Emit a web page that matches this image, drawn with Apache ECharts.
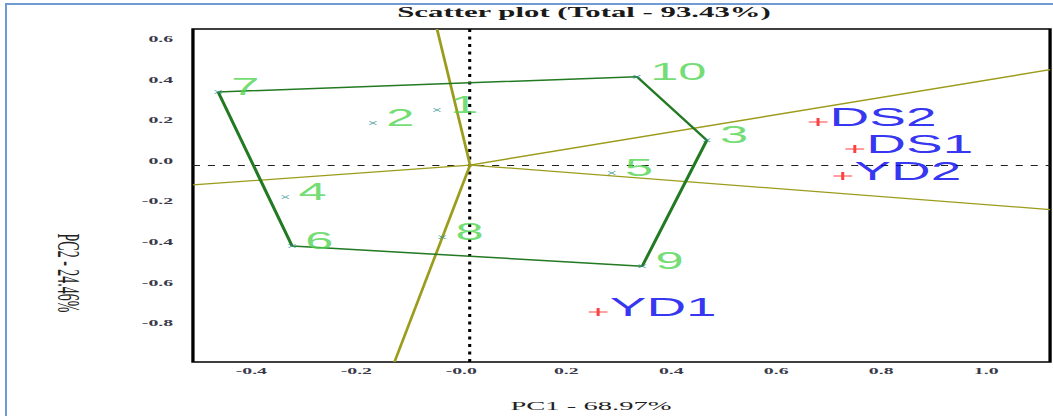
<!DOCTYPE html>
<html>
<head>
<meta charset="utf-8">
<script src="https://cdn.jsdelivr.net/npm/echarts@6/dist/echarts.min.js"></script>
<style>
  html, body { margin: 0; padding: 0; background: #fff; overflow: hidden; }
  #wrap { position: relative; width: 1053px; height: 416px; overflow: hidden; }
  /* the biplot is drawn narrow and stretched sideways */
  #chart { position: absolute; left: 0; top: 0; width: 479px; height: 416px;
           transform: scaleX(2.2); transform-origin: 0 0; }
  #frame { position: absolute; left: 5px; top: 3px; width: 1100px; height: 500px;
           border-left: 2px solid #6f9bd2; border-top: 2px solid #6f9bd2;
           pointer-events: none; }
</style>
</head>
<body>
<div id="wrap">
  <div id="chart"></div>
  <div id="frame"></div>
</div>
<script>
// Genotype scores (PC1, PC2)
const genotypes = ['1', '2', '3', '4', '5', '6', '7', '8', '9', '10'];
const genoPC1 = [-0.063, -0.185, 0.451, -0.352, 0.270, -0.339, -0.480, -0.053, 0.328, 0.318];
const genoPC2 = [0.271, 0.207, 0.122, -0.158, -0.039, -0.399, 0.360, -0.355, -0.498, 0.435];

// Environment scores (PC1, PC2)
const environments = ['DS1', 'DS2', 'YD1', 'YD2'];
const envPC1 = [0.733, 0.663, 0.244, 0.710];
const envPC2 = [0.079, 0.212, -0.724, -0.054];

// Vertex genotypes of the polygon, in drawing order
const hullOrder = ['7', '10', '3', '9', '6'];

// Axis ranges and tick labels
const xRange = [-0.528, 1.105];
const yRange = [-0.97, 0.67];
const xTicks = [-0.4, -0.2, 0, 0.2, 0.4, 0.6, 0.8, 1.0];
const yTicks = [-0.8, -0.6, -0.4, -0.2, 0, 0.2, 0.4, 0.6];

const titleText = 'Scatter plot (Total - 93.43%)';
const xName = 'PC1 - 68.97%';
const yName = 'PC2 - 24.46%';

const SX = 2.2; // horizontal stretch applied to the chart box

function genoPoint(name) {
  const i = genotypes.indexOf(name);
  return [genoPC1[i], genoPC2[i]];
}

// polygon outline, closed
const hullData = hullOrder.map(genoPoint);
hullData.push(hullData[0]);

// ray from the origin, perpendicular to side AB, out to the plot border
function perpRay(A, B) {
  const dx = B[0] - A[0], dy = B[1] - A[1];
  const t = -(A[0] * dx + A[1] * dy) / (dx * dx + dy * dy);
  const px = A[0] + t * dx, py = A[1] + t * dy;
  let s = Infinity;
  if (px > 0) s = Math.min(s, xRange[1] / px); else if (px < 0) s = Math.min(s, xRange[0] / px);
  if (py > 0) s = Math.min(s, yRange[1] / py); else if (py < 0) s = Math.min(s, yRange[0] / py);
  return [[0, 0], [px * s, py * s]];
}

const raySeries = [];
for (let k = 0; k < hullOrder.length; k++) {
  const A = genoPoint(hullOrder[k]);
  const B = genoPoint(hullOrder[(k + 1) % hullOrder.length]);
  raySeries.push({
    type: 'line',
    data: perpRay(A, B),
    symbol: 'none',
    silent: true,
    z: 2,
    lineStyle: { color: '#9c9c1c', width: 1.3 }
  });
}

const crossPath = 'path://M0,0L2,0L5,3L8,0L10,0L6,4L10,8L8,8L5,5L2,8L0,8L4,4Z';
const plusPath = 'path://M0,4.3L10,4.3L10,5.7L0,5.7Z M4.2,0L5.8,0L5.8,10L4.2,10Z';

const chart = echarts.init(document.getElementById('chart'), null, { renderer: 'svg' });

chart.setOption({
  animation: false,
  backgroundColor: '#fff',
  grid: {
    left: 87.7, right: 1.7, top: 29, bottom: 54,
    show: true, borderColor: '#000', borderWidth: 1.5, backgroundColor: 'transparent'
  },
  xAxis: {
    type: 'value', min: xRange[0], max: xRange[1],
    axisLine: { show: false }, axisTick: { show: false }, splitLine: { show: false },
    axisLabel: {
      customValues: xTicks,
      formatter: v => (v === 0 ? '-0.0' : v.toFixed(1)),
      fontSize: 9, fontWeight: 'bold', fontFamily: 'Liberation Serif',
      color: '#3a3a4a', margin: 4, padding: [0, 8, 0, 0]
    }
  },
  yAxis: {
    type: 'value', min: yRange[0], max: yRange[1],
    axisLine: { show: false }, axisTick: { show: false }, splitLine: { show: false },
    axisLabel: {
      customValues: yTicks,
      formatter: v => v.toFixed(1),
      fontSize: 9, fontWeight: 'bold', fontFamily: 'Liberation Serif',
      color: '#3a3a4a', margin: 9, verticalAlign: 'bottom'
    }
  },
  graphic: [
    {
      type: 'text', x: 584 / SX, y: 12,
      style: { text: titleText, fill: '#1a1a1a', font: '600 14px "Liberation Serif"',
               textAlign: 'center', textVerticalAlign: 'middle' }
    },
    {
      type: 'text', x: 591 / SX, y: 406,
      style: { text: xName, fill: '#222', font: '13px "Liberation Serif"',
               textAlign: 'center', textVerticalAlign: 'middle' }
    },
    {
      type: 'text', x: 68 / SX, y: 273, rotation: -Math.PI / 2,
      style: { text: yName, fill: '#222', font: '14px "Liberation Serif"',
               textAlign: 'center', textVerticalAlign: 'middle' }
    }
  ],
  series: raySeries.concat([
    {
      type: 'line',
      data: hullData,
      symbol: 'none',
      silent: true,
      z: 3,
      lineStyle: { color: '#227a22', width: 1.5 }
    },
    {
      type: 'scatter',
      data: genotypes.map((g, i) => ({ name: g, value: [genoPC1[i], genoPC2[i]] })),
      symbol: crossPath,
      symbolSize: [4, 3.5],
      z: 5,
      itemStyle: { color: '#2a8c8c' },
      label: {
        show: true, position: 'right', distance: 4, offset: [0, -5],
        formatter: p => p.name,
        fontSize: 23, fontFamily: 'Liberation Sans', color: '#4fd44f'
      },
      markLine: {
        silent: true,
        symbol: ['none', 'none'],
        label: { show: false },
        z: 1,
        data: [
          { xAxis: 0, lineStyle: { color: '#000', width: 1.4, type: [3, 4.5] } },
          { yAxis: 0, lineStyle: { color: '#222', width: 1.2, type: [3.2, 3.6] } }
        ]
      }
    },
    {
      type: 'scatter',
      data: environments.map((e, i) => ({ name: e, value: [envPC1[i], envPC2[i]] })),
      symbol: plusPath,
      symbolSize: [8.5, 8],
      z: 5,
      itemStyle: { color: '#ff1010' },
      label: {
        show: true, position: 'right', distance: 1, offset: [0, -5],
        formatter: p => p.name,
        fontSize: 25, fontFamily: 'Liberation Sans', color: '#0000ee'
      }
    }
  ])
});
</script>
</body>
</html>
